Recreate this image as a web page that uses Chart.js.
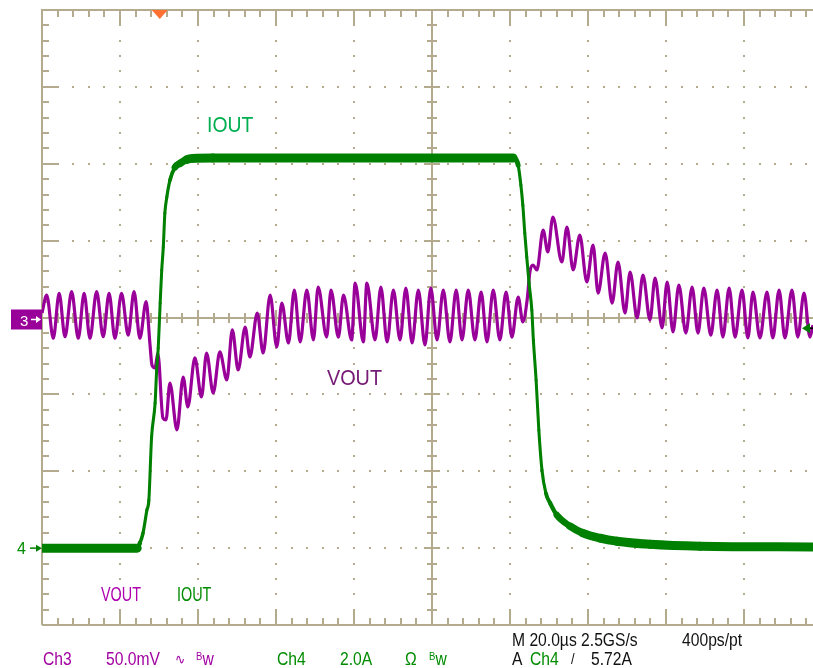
<!DOCTYPE html>
<html lang="en">
<head>
  <meta charset="UTF-8" />
  <title>Load transient: VOUT / IOUT</title>
  <script src="https://cdn.jsdelivr.net/npm/chart.js"></script>
  <style>
    body { margin: 0; background: #fff; overflow: hidden; }
    #wrap { position: relative; width: 813px; height: 668px; }
    canvas { display: block; }
    .t {
      position: absolute;
      font-family: "Liberation Sans", Arial, sans-serif;
      font-size: 18px;
      line-height: 18px;
      white-space: nowrap;
      transform: scaleX(0.87);
      transform-origin: 0 0;
    }
    .p { color: #a100a1; }
    .g { color: #008c00; }
    .k { color: #111; }
    .sup { font-size: 11px; line-height: 0; position: relative; top: -5px; }
  </style>
</head>
<body>
<div id="wrap">
  <canvas id="scope" width="813" height="668"></canvas>

  <div class="t" style="left:207px; top:114px; font-size:22px; line-height:22px; color:#00b050; transform:scaleX(0.88)">IOUT</div>
  <div class="t" style="left:327px; top:367px; font-size:22px; line-height:22px; color:#751a75; transform:scaleX(0.9)">VOUT</div>

  <div class="t" style="left:101px; top:584px; font-size:20px; line-height:20px; color:#b000b0; transform:scaleX(0.72)">VOUT</div>
  <div class="t" style="left:177px; top:584px; font-size:20px; line-height:20px; color:#008c00; transform:scaleX(0.72)">IOUT</div>

  <div class="t" style="left:20px; top:313px; font-size:15px; line-height:15px; color:#fff; transform:none">3</div>
  <div class="t g" style="left:17px; top:541px; font-size:16px; line-height:16px; transform:none">4</div>

  <div class="t k" style="left:512px; top:631px">M 20.0µs 2.5GS/s</div>
  <div class="t k" style="left:682px; top:631px">400ps/pt</div>

  <div class="t p" style="left:43px; top:650px">Ch3</div>
  <div class="t p" style="left:106px; top:650px">50.0mV</div>
  <div class="t p" style="left:175px; top:650px; font-size:14px">∿</div>
  <div class="t p" style="left:196px; top:650px"><span class="sup">B</span>w</div>
  <div class="t g" style="left:277px; top:650px">Ch4</div>
  <div class="t g" style="left:340px; top:650px">2.0A</div>
  <div class="t g" style="left:405px; top:650px">Ω</div>
  <div class="t g" style="left:429px; top:650px"><span class="sup">B</span>w</div>
  <div class="t k" style="left:512px; top:650px">A</div>
  <div class="t g" style="left:530px; top:650px">Ch4</div>
  <div class="t k" style="left:571px; top:650px; font-size:15px">/</div>
  <div class="t k" style="left:591px; top:650px">5.72A</div>
</div>

<script>
  // screen: 10 x 20 us horizontally, 8 divisions vertically
  const TIME_PER_DIV = 20;      // us
  const X_DIVS = 10;
  const Y_DIVS = 8;
  const VISIBLE_T = 197.7;      // screenshot is cut just before the right edge
  const CH3_POS = 4, CH3_SCALE = 50;   // div, mV/div
  const CH4_POS = 1, CH4_SCALE = 2;    // div, A/div
  const TRIG_T = 30.2;          // us
  const TRIG_LEVEL = 5.72;      // A

  // IOUT (Ch4), amps
  const IOUT_T = [0, 24.4, 25.1, 25.9, 26.9, 27.4, 28.1, 29.0, 29.4, 29.8,
    30.3, 30.7, 31.1, 31.5, 32.0, 32.8, 34.1, 35.4, 37.1, 38.7,
    43.8, 120.8, 122.1, 122.8, 123.3, 123.8, 124.3, 124.9, 125.6, 126.0,
    126.7, 127.4, 128.2, 129.2, 130.3, 132.0, 135.4, 138.7, 143.1, 147.4,
    155.9, 168.7, 197.7];
  const IOUT_A = [0, 0, 0.13, 0.39, 0.99, 1.25, 2.89, 3.77, 4.63, 5.2,
    6.37, 7.23, 7.83, 8.71, 9.13, 9.57, 9.91, 10.01, 10.11, 10.14,
    10.15, 10.15, 9.96, 9.44, 8.92, 8.19, 7.57, 6.89, 6.19, 5.41,
    4.37, 3.07, 2.03, 1.43, 1.17, 0.86, 0.57, 0.39, 0.26, 0.18,
    0.10, 0.05, 0.03];

  // VOUT (Ch3), mV around the set point, ripple peaks and troughs
  const VOUT_T = [0.0, 1.2, 2.9, 4.4, 5.9, 7.6, 9.3, 10.8, 12.3, 14.0, 15.7, 17.2, 18.7, 20.4, 22.1, 23.6, 25.1, 26.7,
    27.7, 28.2, 29.0, 29.7, 31.0, 31.8, 32.8, 34.6, 36.2, 37.4, 39.2, 40.9, 42.2, 43.9, 45.6, 47.4, 48.8, 50.3,
    52.1, 53.3, 55.2, 56.7, 58.5, 60.2, 61.5, 63.2, 64.7, 66.2, 67.9, 69.6, 70.8, 73.0, 74.1, 76.0, 77.3, 79.4,
    80.3, 82.4, 83.3,
    85.4, 86.9, 88.5, 90.1, 91.8, 93.3, 94.9, 96.5, 98.2, 99.7, 101.3, 102.9, 104.6, 106.2, 107.7, 109.3, 111.0,
    112.6, 114.1, 115.7, 117.4, 119.0, 120.5, 122.1,
    123.3, 124.4, 125.1, 125.9, 126.9, 128.5, 129.7, 131.0, 133.3, 134.6, 136.2, 137.9, 139.7, 141.3, 142.6,
    144.4, 146.2, 147.7, 149.5, 150.8, 152.6, 154.1, 155.9, 157.2,
    159.0, 160.3, 161.8, 163.3, 165.1, 166.7, 168.2, 169.7, 171.5, 173.1, 174.6, 176.2, 177.7, 179.5, 181.0,
    182.3, 184.1, 185.9, 187.4, 189.0, 190.5, 192.3, 193.8, 195.4, 196.9, 197.7];
  const VOUT_MV = [2.9, 14.6, -13.5, 15.7, -12.5, 16.8, -13.5, 15.7, -13.5, 16.8, -12.5, 15.7, -13.5, 15.7, -11.4, 16.8, -13.5, 10.3,
    -17.9, -30.9, -32.8, -23.1, -65.3, -66.6, -42.6, -73.1, -38.7, -58.2, -26.3, -51.7, -23.1, -49.1, -22.4, -40.6, -8.1, -34.1,
    -6.2, -25.7, 2.9, -23.1, 14.6, -19.2, 9.4, -16.6, 17.9, -15.9, 17.9, -14.6, 19.8, -12.7, 17.9, -12.7, 14.6, -14.6,
    22.4, -15.9, 22.4,
    -14.6, 19.8, -15.9, 17.9, -14.6, 19.2, -16.6, 17.9, -17.9, 19.2, -14.6, 17.9, -15.9, 17.9, -14.6, 17.9, -14.6,
    16.6, -15.9, 17.9, -14.6, 16.6, -12.7, 13.3,
    -2.9, 11.4, 29.6, 34.1, 30.9, 56.9, 42.6, 65.3, 36.1, 58.8, 30.9, 53.6, 23.1, 47.1, 15.9,
    41.9, 9.4, 36.1, 2.9, 29.6, -0.3, 27.6, -1.6, 25.7,
    -6.8, 23.1, -9.4, 21.1, -10.1, 19.8, -10.1, 19.2, -11.4, 17.9, -12.7, 19.2, -12.7, 17.9, -13.3,
    16.6, -13.3, 16.6, -13.3, 17.9, -13.3, 17.9, -12.7, 15.9, -12.7, -4.9];

  const GRID = '#b4aa8e';

  const graticule = {
    id: 'graticule',
    beforeDatasetsDraw(chart) {
      const { ctx, chartArea: a, scales: { x, y } } = chart;
      const minorT = TIME_PER_DIV / 5;
      const px = t => Math.round(x.getPixelForValue(t));
      const py = d => Math.round(y.getPixelForValue(d));
      ctx.save();
      ctx.fillStyle = GRID;
      ctx.strokeStyle = GRID;

      // dotted division lines
      for (let i = 1; i < X_DIVS; i++) {
        if (i === X_DIVS / 2) continue;
        const xx = px(i * TIME_PER_DIV);
        for (let j = 1; j < Y_DIVS * 5; j++) ctx.fillRect(xx - 1, py(j / 5) - 1, 2, 2);
      }
      for (let k = 1; k < Y_DIVS; k++) {
        if (k === Y_DIVS / 2) continue;
        const yy = py(k);
        for (let j = 1; j < X_DIVS * 5; j++) ctx.fillRect(px(j * minorT) - 1, yy - 1, 2, 2);
      }

      ctx.lineWidth = 2;
      ctx.beginPath();
      // border (right edge is off screen)
      ctx.moveTo(a.left, a.bottom); ctx.lineTo(a.left, a.top); ctx.lineTo(a.right + 10, a.top);
      ctx.moveTo(a.left, a.bottom); ctx.lineTo(a.right + 10, a.bottom);
      // centre cross
      const cx = px(TIME_PER_DIV * X_DIVS / 2), cy = py(Y_DIVS / 2);
      ctx.moveTo(a.left, cy); ctx.lineTo(a.right + 10, cy);
      ctx.moveTo(cx, a.top); ctx.lineTo(cx, a.bottom);

      // ticks along top/bottom border and horizontal centre line
      for (let j = 1; j < X_DIVS * 5; j++) {
        const xx = px(j * minorT);
        const major = j % 5 === 0;
        const len = major ? 16 : 7;
        ctx.moveTo(xx, a.top); ctx.lineTo(xx, a.top + len);
        ctx.moveTo(xx, a.bottom); ctx.lineTo(xx, a.bottom - len);
        const c = major ? 8 : 5;
        ctx.moveTo(xx, cy - c); ctx.lineTo(xx, cy + c);
      }
      // ticks along left border and vertical centre line
      for (let j = 1; j < Y_DIVS * 5; j++) {
        const yy = py(j / 5);
        const major = j % 5 === 0;
        const len = major ? 16 : 7;
        ctx.moveTo(a.left, yy); ctx.lineTo(a.left + len, yy);
        const c = major ? 8 : 5;
        ctx.moveTo(cx - c, yy); ctx.lineTo(cx + c, yy);
      }
      ctx.stroke();
      ctx.restore();
    },
    afterDraw(chart) {
      const { ctx, chartArea: a, scales: { x, y } } = chart;
      ctx.save();
      // trigger position
      const tx = x.getPixelForValue(TRIG_T);
      ctx.fillStyle = '#ff7033';
      ctx.beginPath();
      ctx.moveTo(tx - 8, a.top); ctx.lineTo(tx + 8, a.top); ctx.lineTo(tx, a.top + 9);
      ctx.closePath(); ctx.fill();

      // trigger level on the right edge
      const ly = y.getPixelForValue(CH4_POS + TRIG_LEVEL / CH4_SCALE);
      ctx.strokeStyle = '#000'; ctx.lineWidth = 2;
      ctx.beginPath(); ctx.moveTo(806, ly); ctx.lineTo(813, ly); ctx.stroke();
      ctx.fillStyle = '#007a00';
      ctx.beginPath();
      ctx.moveTo(802, ly); ctx.lineTo(810, ly - 5); ctx.lineTo(810, ly + 5);
      ctx.closePath(); ctx.fill();

      // Ch3 ground marker
      const y3 = y.getPixelForValue(CH3_POS);
      ctx.fillStyle = '#990099';
      ctx.fillRect(11, y3 - 8, 31, 20);
      ctx.strokeStyle = '#fff'; ctx.fillStyle = '#fff'; ctx.lineWidth = 1.5;
      ctx.beginPath(); ctx.moveTo(31, y3 + 2); ctx.lineTo(37, y3 + 2); ctx.stroke();
      ctx.beginPath(); ctx.moveTo(41, y3 + 2); ctx.lineTo(36, y3 - 1.5); ctx.lineTo(36, y3 + 5.5);
      ctx.closePath(); ctx.fill();

      // Ch4 ground marker
      const y4 = y.getPixelForValue(CH4_POS);
      ctx.strokeStyle = '#008000'; ctx.fillStyle = '#008000';
      ctx.beginPath(); ctx.moveTo(30, y4); ctx.lineTo(37, y4); ctx.stroke();
      ctx.beginPath(); ctx.moveTo(42, y4); ctx.lineTo(36, y4 - 3.5); ctx.lineTo(36, y4 + 3.5);
      ctx.closePath(); ctx.fill();
      ctx.restore();
    }
  };

  const ioutPoints = IOUT_T.map((t, i) => ({ x: t, y: CH4_POS + IOUT_A[i] / CH4_SCALE }));
  const voutPoints = VOUT_T.map((t, i) => ({ x: t, y: CH3_POS + VOUT_MV[i] / CH3_SCALE }));

  new Chart(document.getElementById('scope'), {
    type: 'line',
    data: {
      datasets: [
        {
          label: 'IOUT',
          data: ioutPoints,
          borderColor: '#008000',
          borderWidth: 8,
          borderCapStyle: 'round',
          borderJoinStyle: 'round',
          cubicInterpolationMode: 'monotone',
          segment: {
            // trace noise makes the flat parts look thick, the edges thin
            borderWidth: c => {
              const dx = c.p1.x - c.p0.x, dy = c.p1.y - c.p0.y;
              return 3 + 6 * dx * dx / (dx * dx + dy * dy || 1);
            }
          }
        },
        {
          label: 'VOUT',
          data: voutPoints,
          borderColor: '#990099',
          borderWidth: 3.2,
          borderJoinStyle: 'round',
          cubicInterpolationMode: 'monotone'
        }
      ]
    },
    options: {
      responsive: false,
      animation: false,
      devicePixelRatio: 1,
      layout: { padding: { left: 42, top: 10, right: 0, bottom: 43 } },
      elements: { point: { radius: 0 } },
      scales: {
        x: { type: 'linear', min: 0, max: VISIBLE_T, display: false },
        y: { min: 0, max: Y_DIVS, display: false }
      },
      plugins: { legend: { display: false }, tooltip: { enabled: false } }
    },
    plugins: [graticule]
  });
</script>
</body>
</html>
